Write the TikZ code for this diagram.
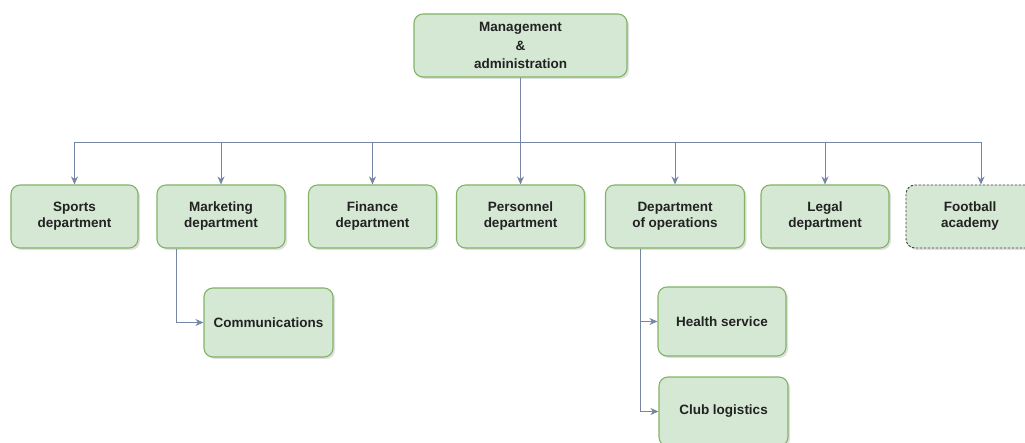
\documentclass[tikz,border=0pt]{standalone}
\usepackage{fontspec}
\setmainfont{Liberation Sans}
\usetikzlibrary{arrows.meta,shadows}

\definecolor{boxfill}{HTML}{D5E8D4}
\definecolor{boxline}{HTML}{82B366}
\definecolor{linkcol}{HTML}{7585A3}
\definecolor{txtcol}{HTML}{222222}

\tikzset{
  unit/.style={draw=boxline, fill=boxfill, line width=1.1pt, rounded corners=9pt,
    drop shadow={shadow xshift=2pt, shadow yshift=-2pt, opacity=0.25},
    minimum width=128pt, minimum height=63pt, align=center, text=txtcol,
    font=\bfseries\fontsize{13.5}{16}\selectfont},
  extunit/.style={unit, draw=black!75, dash pattern=on 2.5pt off 1.5pt, line width=0.9pt},
  link/.style={draw=linkcol, line width=0.9pt, -{Stealth[length=8pt,width=7pt]}}
}

\begin{document}
\begin{tikzpicture}[x=1pt, y=-1pt]
\useasboundingbox (0,0) rectangle (1025,443);
% top
\node[unit, minimum width=213pt, font=\bfseries\fontsize{13.5}{18.5}\selectfont] (mgmt) at (520.5,45.5) {Management\\\&\\administration};
\coordinate (bus) at (520.5,142);
% departments
\node[unit, minimum width=127pt] (sports) at (74.5,216.5) {Sports\\department};
\node[unit] (mkt) at (221,216.5) {Marketing\\department};
\node[unit] (fin) at (372.5,216.5) {Finance\\department};
\node[unit] (pers) at (520.5,216.5) {Personnel\\department};
\node[unit, minimum width=139pt] (ops) at (675,216.5) {Department\\of operations};
\node[unit] (legal) at (825,216.5) {Legal\\department};
\node[extunit] (acad) at (970,216.5) {Football\\academy};
% sub units
\node[unit, minimum width=129pt, minimum height=69pt] (comm) at (268.5,322.5) {Communications};
\node[unit, minimum height=69pt] (health) at (722,321.5) {Health service};
\node[unit, minimum width=129pt, minimum height=69pt] (logi) at (723.5,411.5) {Club logistics};
% links
\foreach \d in {sports,mkt,fin,pers,ops,legal}
  \draw[link] (mgmt.south) -- (mgmt.south |- bus) -| (\d.north);
\draw[link] (mgmt.south) -- (mgmt.south |- bus) -| ([xshift=11pt]acad.north);
\draw[link] ([xshift=20pt]mkt.south west) |- (comm.west);
\draw[link] ([xshift=35pt]ops.south west) |- (health.west);
\draw[link] ([xshift=35pt]ops.south west) |- (logi.west);
\end{tikzpicture}
\end{document}
